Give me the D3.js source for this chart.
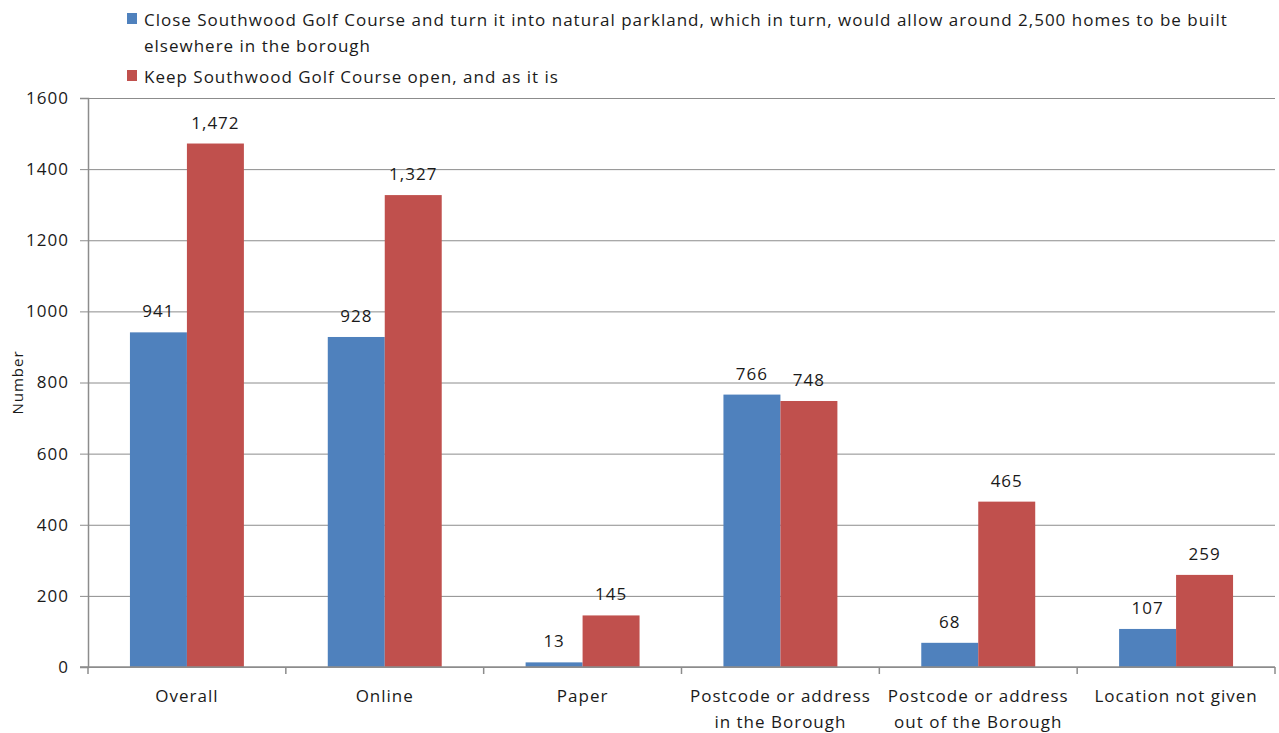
<!DOCTYPE html>
<html>
<head>
<meta charset="utf-8">
<script src="https://cdn.jsdelivr.net/npm/d3@7"></script>
<style>
  body { margin: 0; background: #fff; }
  text { font-family: "Open Sans", "Noto Sans", sans-serif; fill: #1a1a1a; letter-spacing: 1px; }
</style>
</head>
<body>
<div id="chart"></div>
<script>
// chart data
const categories = [
  ["Overall"],
  ["Online"],
  ["Paper"],
  ["Postcode or address", "in the Borough"],
  ["Postcode or address", "out of the Borough"],
  ["Location not given"]
];
const closeValues = [941, 928, 13, 766, 68, 107];
const keepValues = [1472, 1327, 145, 748, 465, 259];
const seriesNames = [
  ["Close Southwood Golf Course and turn it into natural parkland, which in turn, would allow around 2,500 homes to be built",
   "elsewhere in the borough"],
  ["Keep Southwood Golf Course open, and as it is"]
];
const seriesColors = ["#4F81BD", "#C0504D"];
const yTicks = [0, 200, 400, 600, 800, 1000, 1200, 1400, 1600];

const W = 1279, H = 733;
const plotLeft = 88, plotRight = 1275, plotTop = 98, plotBottom = 667;

const svg = d3.select("#chart").append("svg")
  .attr("width", W).attr("height", H);

const x = d3.scaleBand()
  .domain(d3.range(categories.length))
  .range([plotLeft, plotRight]);

const y = d3.scaleLinear()
  .domain([0, 1600])
  .range([plotBottom, plotTop]);

// gridlines
svg.append("g")
  .attr("transform", `translate(${plotLeft},0)`)
  .call(d3.axisLeft(y).tickValues(yTicks).tickSize(-(plotRight - plotLeft)).tickFormat(""))
  .call(g => g.select(".domain").remove())
  .selectAll("line").attr("stroke", "#8c8c8c").attr("stroke-width", 1);

// y axis
const yAxis = svg.append("g")
  .attr("transform", `translate(${plotLeft},0)`)
  .call(d3.axisLeft(y).tickValues(yTicks).tickSize(8).tickPadding(11).tickFormat(d3.format("d")));
yAxis.select(".domain").attr("stroke", "#8c8c8c").attr("stroke-width", 1.5);
yAxis.selectAll("line").attr("stroke", "#8c8c8c");
yAxis.selectAll("text").style("font-size", "17px").attr("fill", "#1a1a1a");

// bars
const barW = x.bandwidth() * 0.288;
const groups = svg.append("g").selectAll("g")
  .data(categories)
  .join("g")
  .attr("transform", (d, i) => `translate(${x(i) + x.bandwidth() / 2},0)`);

[closeValues, keepValues].forEach((vals, s) => {
  groups.append("rect")
    .attr("x", s === 0 ? -barW : 0)
    .attr("width", barW)
    .attr("y", (d, i) => y(vals[i]))
    .attr("height", (d, i) => plotBottom - y(vals[i]))
    .attr("fill", seriesColors[s]);

  groups.append("text")
    .attr("x", (s === 0 ? -barW : 0) + barW / 2)
    .attr("y", (d, i) => y(vals[i]) - 15)
    .attr("text-anchor", "middle")
    .style("font-size", "17px")
    .text((d, i) => d3.format(",")(vals[i]));
});

// x axis
const xAxis = svg.append("g")
  .attr("transform", `translate(0,${plotBottom})`);
xAxis.append("line")
  .attr("x1", plotLeft - 8).attr("x2", plotRight)
  .attr("stroke", "#8c8c8c").attr("stroke-width", 1.5);
xAxis.selectAll(".tk")
  .data(d3.range(categories.length + 1))
  .join("line")
  .attr("x1", i => i < categories.length ? x(i) : plotRight)
  .attr("x2", i => i < categories.length ? x(i) : plotRight)
  .attr("y1", 0).attr("y2", 7)
  .attr("stroke", "#8c8c8c").attr("stroke-width", 1.5);
xAxis.selectAll(".lab")
  .data(categories)
  .join("text")
  .attr("text-anchor", "middle")
  .style("font-size", "17px")
  .attr("transform", (d, i) => `translate(${x(i) + x.bandwidth() / 2},35)`)
  .selectAll("tspan")
  .data(d => d)
  .join("tspan")
  .attr("x", 0)
  .attr("dy", (d, j) => j === 0 ? 0 : 26)
  .text(d => d);

// y axis title
svg.append("text")
  .attr("transform", `translate(23,${(plotTop + plotBottom) / 2}) rotate(-90)`)
  .attr("text-anchor", "middle")
  .style("font-size", "15px")
  .text("Number");

// legend
const legendY = [20, 77];
seriesNames.forEach((lines, s) => {
  svg.append("rect")
    .attr("x", 127).attr("y", legendY[s] - 7)
    .attr("width", 10).attr("height", 11)
    .attr("fill", seriesColors[s]);
  const t = svg.append("text")
    .attr("y", legendY[s] + 6)
    .style("font-size", "17px");
  lines.forEach((ln, j) => {
    t.append("tspan").attr("x", 144).attr("dy", j === 0 ? 0 : 26).text(ln);
  });
});
</script>
</body>
</html>
